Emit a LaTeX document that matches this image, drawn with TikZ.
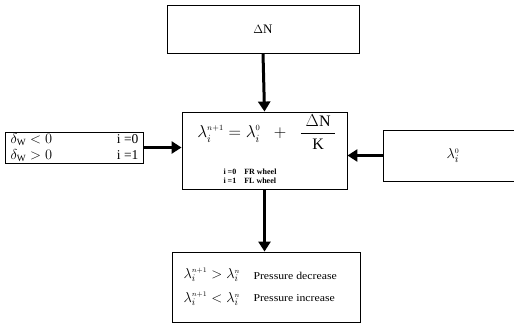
\documentclass[tikz,border=0pt]{standalone}
\usepackage{fontspec}
\usepackage{graphicx}
\setmainfont{Liberation Serif}
\usetikzlibrary{arrows.meta}
\begin{document}
\begin{tikzpicture}[x=1pt,y=-1pt,
  box/.style={draw,line width=0.9pt,inner sep=0pt},
  arr/.style={line width=3pt,-{Triangle[length=10pt,width=12pt]}}]
\useasboundingbox (0,0) rectangle (514,325);
\node[box,minimum width=192pt,minimum height=48pt] (top) at (263,29) {\fontsize{13}{15}\selectfont$\Delta$N};
\node[box,minimum width=165pt,minimum height=77pt] (mid) at (264.5,150.5) {};
\node (eq) at (267,132) {\fontsize{16}{18}\selectfont$\displaystyle\lambda_{i}^{\scriptscriptstyle n+1}=\lambda_{i}^{\scriptscriptstyle 0}\;\;+\;\;\frac{\;\Delta\mathrm{N}\;}{\mathrm{K}}$};
\node[align=left,font=\fontsize{8}{9.5}\selectfont\bfseries,anchor=north] (lab) at (250,165) {i =0\quad FR wheel\\ i =1\quad FL wheel};
\node[box,minimum width=138pt,minimum height=31pt] (left) at (74,147.5) {};
\node[anchor=west,font=\fontsize{13.5}{16}\selectfont,align=left] (lt) at (7,147.5) {$\delta_{\mathrm{W}}<0$\\ $\delta_{\mathrm{W}}>0$};
\node[anchor=east,font=\fontsize{13.5}{16}\selectfont,align=right] (rt) at (142,147.5) {i =0\\ i =1};
\node[box,minimum width=140pt,minimum height=51pt] (right) at (453,155.5) {\fontsize{15}{17}\selectfont$\lambda_{i}^{\scriptscriptstyle 0}$};
\node[box,minimum width=188pt,minimum height=70pt] (bot) at (266,287) {};
\node[anchor=west,font=\fontsize{14}{16}\selectfont,align=left] (bl) at (180,287) {$\lambda_{i}^{\scriptscriptstyle n+1}>\lambda_{i}^{\scriptscriptstyle n}$\\[8pt] $\lambda_{i}^{\scriptscriptstyle n+1}<\lambda_{i}^{\scriptscriptstyle n}$};
\node[anchor=west,font=\fontsize{10.5}{12}\selectfont,align=left] (br) at (250,287) {\scalebox{1.12}[1]{Pressure decrease}\\[10pt] \scalebox{1.12}[1]{Pressure increase}};
\draw[arr] (top.south) -- (mid.north);
\draw[arr] (left.east) -- (mid.west |- left.east);
\draw[arr] (right.west) -- (mid.east |- right.west);
\draw[arr] (mid.south) -- (mid.south |- bot.north);
\end{tikzpicture}
\end{document}
